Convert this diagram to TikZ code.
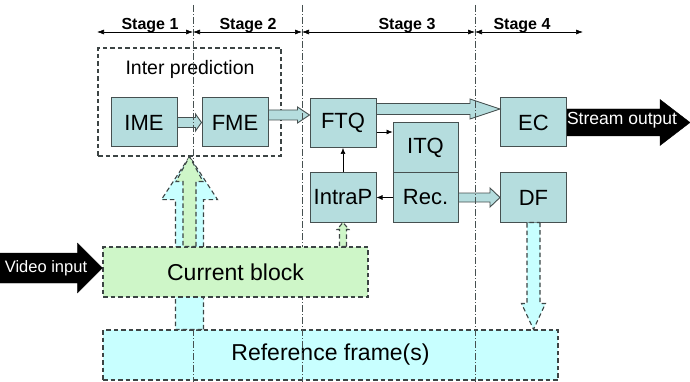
\documentclass[tikz,border=0pt]{standalone}
\usepackage{fontspec}
\setmainfont{Liberation Sans}
\usetikzlibrary{calc,arrows.meta}

\definecolor{blockfill}{RGB}{181,221,222}
\definecolor{curfill}{RGB}{206,246,200}
\definecolor{reffill}{RGB}{200,255,255}
\definecolor{edge}{RGB}{70,80,80}

\newcommand{\sz}[1]{\fontsize{#1}{#1}\selectfont}

% fat arrows: style, from, to, half shaft, half head, head length
\newcommand{\hfat}[6]{%
  \draw[#1] let \p1=(#2), \p2=(#3), \n1={sign(\x2-\x1)} in
    (\x1,{\y1+#4pt}) -- ({\x2-\n1*#6pt},{\y1+#4pt}) -- ({\x2-\n1*#6pt},{\y1+#5pt})
    -- (\x2,\y1) -- ({\x2-\n1*#6pt},{\y1-#5pt}) -- ({\x2-\n1*#6pt},{\y1-#4pt})
    -- (\x1,{\y1-#4pt}) -- cycle;}
\newcommand{\vfat}[6]{%
  \draw[#1] let \p1=(#2), \p2=(#3), \n1={sign(\y2-\y1)} in
    ({\x1+#4pt},\y1) -- ({\x1+#4pt},{\y2-\n1*#6pt}) -- ({\x1+#5pt},{\y2-\n1*#6pt})
    -- (\x1,\y2) -- ({\x1-#5pt},{\y2-\n1*#6pt}) -- ({\x1-#4pt},{\y2-\n1*#6pt})
    -- ({\x1-#4pt},\y1) -- cycle;}

\tikzset{
  blockbox/.style={draw=edge, line width=1pt, fill=blockfill, minimum width=66pt,
    minimum height=49pt, inner sep=0pt, font=\sz{22}},
  dashbox/.style={draw=edge!85!black, dash pattern=on 4.5pt off 3pt, line width=1.1pt},
  flow/.style={draw=edge, line width=0.9pt, fill=blockfill},
  feed/.style={dashbox, fill=#1},
  link/.style={-{Latex[length=6pt,width=5pt]}, line width=0.6pt},
  stageline/.style={edge, line width=0.6pt, dash pattern=on 7pt off 2pt on 1pt off 2pt},
  stagearrow/.style={{Latex[length=7pt,width=5pt]}-{Latex[length=7pt,width=5pt]}, line width=0.6pt},
  stagelabel/.style={anchor=base, font=\sz{16}\bfseries, inner sep=0pt},
  bigarrow/.style={fill=black, draw=black}
}

\begin{document}
\begin{tikzpicture}[x=1pt, y=-1pt]
  \useasboundingbox (0,0) rectangle (690,382);

  \node[dashbox, fill=reffill, minimum width=455pt, minimum height=50pt, font=\sz{23}]
    (ref) at (330.5,355) {Reference frame(s)};

  \node[dashbox, minimum width=183pt, minimum height=108pt] (inter) at (189.5,102) {};
  \node[font=\sz{19.5}] (interlabel) at (190,69) {Inter prediction};

  \node[blockbox] (IME) at (144,122.5) {IME};
  \node[blockbox] (FME) at (235,122.5) {FME};
  \node[blockbox] (FTQ) at (343,123) {FTQ};
  \node[blockbox, minimum width=65pt, minimum height=50pt] (ITQ) at (425.5,148) {ITQ};
  \node[blockbox, minimum width=65pt] (Rec) at (425.5,197.5) {Rec.};
  \node[blockbox] (IntraP) at (343,197.5) {IntraP};
  \node[blockbox] (EC) at (533.5,122.5) {EC};
  \node[blockbox] (DF) at (533.5,197.5) {DF};

  \hfat{flow}{IME.east}{FME.west}{5}{8.5}{6}
  \hfat{flow}{[yshift=7.5pt]FME.east}{FTQ.west}{5}{8}{12}
  \hfat{flow}{[yshift=14pt]FTQ.east}{EC.west}{5.5}{10}{30}
  \hfat{flow}{Rec.east}{DF.west}{4.5}{9.5}{10}

  \draw[link] ([yshift=-9pt]FTQ.east) -- ([yshift=-9pt]FTQ.east -| ITQ.west);
  \draw[link] (Rec.west) -- (IntraP.east);
  \draw[link] (IntraP.north) -- (FTQ.south);

  % pipeline stages
  \coordinate (s0) at (97,32);
  \coordinate (s1) at (193,32);
  \coordinate (s2) at (302,32);
  \coordinate (s3) at (475,32);
  \coordinate (s4) at (583,32);
  \foreach \c in {s1,s2,s3}
    \draw[stageline] (\c) ++(0,-27) -- ++(0,377);
  \draw[stagearrow] (s0) -- (s1);
  \draw[stagearrow] (s1) -- (s2);
  \draw[stagearrow] (s2) -- (s3);
  \draw[stagearrow] (s3) -- (s4);
  \node[stagelabel] (st1) at (150,30) {Stage 1};
  \node[stagelabel] (st2) at (248,30) {Stage 2};
  \node[stagelabel] (st3) at (407,30) {Stage 3};
  \node[stagelabel] (st4) at (522,30) {Stage 4};

  \vfat{feed=reffill}{inter.south |- ref.north}{inter.south}{14}{28}{43}

  \node[dashbox, fill=curfill, minimum width=265pt, minimum height=50pt, font=\sz{23}]
    (cur) at (235.5,272) {Current block};

  \vfat{feed=curfill}{inter.south |- cur.north}{inter.south}{6.5}{13.5}{25}
  \vfat{feed=curfill}{IntraP.south |- cur.north}{IntraP.south}{3.5}{6}{7}
  \vfat{feed=reffill}{DF.south}{DF.south |- ref.north}{6.5}{12}{26}

  % input and output
  \coordinate (vin) at (0,268);
  \coordinate (sout) at (690,121);
  \hfat{bigarrow}{vin}{vin -| cur.west}{15}{25}{25}
  \hfat{bigarrow}{EC.east}{sout}{13.5}{23}{30}
  \node[text=white, font=\sz{16.5}, inner sep=0pt] (vinlabel) at (46,268) {Video input};
  \node[text=white, font=\sz{17.5}, inner sep=0pt] (soutlabel) at (622,120) {Stream output};
\end{tikzpicture}
\end{document}
